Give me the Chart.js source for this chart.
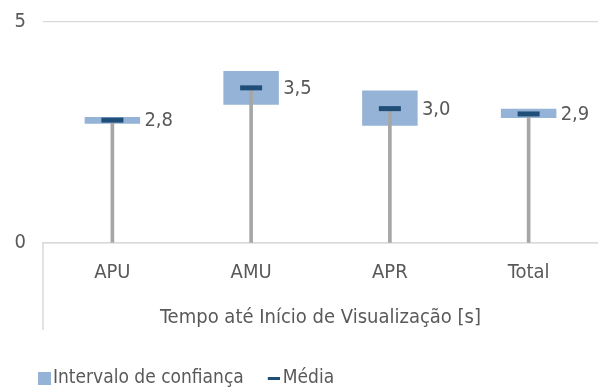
<!DOCTYPE html>
<html>
<head>
<meta charset="utf-8">
<script src="https://cdn.jsdelivr.net/npm/chart.js@4.4.1/dist/chart.umd.min.js"></script>
<style>
  html, body { margin: 0; padding: 0; background: #fff; }
  #wrap { width: 598px; height: 390px; }
</style>
</head>
<body>
<div id="wrap"><canvas id="chart" width="598" height="390"></canvas></div>
<script>
// Data
const categories = ['APU', 'AMU', 'APR', 'Total'];
const meanValues = [2.78, 3.51, 3.04, 2.92];
const ciLow = [2.70, 3.13, 2.65, 2.83];
const ciHigh = [2.85, 3.89, 3.45, 3.04];
const yTicks = [0, 5];
const axisTitle = 'Tempo até Início de Visualização [s]';
const seriesNames = ['Intervalo de confiança', 'Média'];

const FONT = "'DejaVu Sans Condensed', 'Liberation Sans Narrow', 'Arial Narrow', sans-serif";
const FONT_SIZE = 20;
const LEGEND_SIZE = 19;
const TEXT = '#595959';
const GRID = '#d9d9d9';
const CI_BLUE = '#95b3d7';
const MEAN_BLUE = '#1f4e79';
const STEM_GREY = '#a6a6a6';

Chart.defaults.font.family = FONT;
Chart.defaults.font.size = FONT_SIZE;
Chart.defaults.color = TEXT;

// legend icons: a canvas with the mark sitting at its right end
function legendIcon(w, h, markX, markW, markH, color) {
    const c = document.createElement('canvas');
    c.width = w;
    c.height = h;
    const g = c.getContext('2d');
    g.fillStyle = color;
    g.fillRect(markX, (h - markH) / 2, markW, markH);
    return c;
}
const legendIcons = {
    0: legendIcon(24, 13, 11, 13, 13, CI_BLUE),
    2: legendIcon(22, 3, 10, 12, 3, MEAN_BLUE)
};

// value text to the right of each mean marker
const valueLabels = {
    id: 'valueLabels',
    afterDatasetsDraw(chart) {
        const meta = chart.getDatasetMeta(2);
        const ctx = chart.ctx;
        ctx.save();
        ctx.font = FONT_SIZE + 'px ' + FONT;
        ctx.fillStyle = TEXT;
        ctx.textAlign = 'left';
        ctx.textBaseline = 'middle';
        meta.data.forEach((pt, i) => {
            ctx.fillText(meanValues[i].toFixed(1).replace('.', ','), pt.x + 32, pt.y + 1);
        });
        ctx.restore();
    }
};

// left edge of the category band under the axis
const categoryEdge = {
    id: 'categoryEdge',
    afterDraw(chart) {
        const x = chart.scales.x;
        const ctx = chart.ctx;
        ctx.save();
        ctx.strokeStyle = GRID;
        ctx.lineWidth = 1.5;
        ctx.beginPath();
        ctx.moveTo(x.left, x.top);
        ctx.lineTo(x.left, x.bottom - x.options.title.padding.bottom);
        ctx.stroke();
        ctx.restore();
    }
};

new Chart(document.getElementById('chart'), {
    type: 'bar',
    data: {
        labels: categories,
        datasets: [
            {
                label: seriesNames[0],
                data: categories.map((_, i) => [ciLow[i], ciHigh[i]]),
                backgroundColor: CI_BLUE,
                grouped: false,
                barPercentage: 0.4,
                categoryPercentage: 1,
                order: 3
            },
            {
                label: 'stem',
                data: meanValues.map(v => [0, v]),
                backgroundColor: STEM_GREY,
                grouped: false,
                barThickness: 3,
                order: 2
            },
            {
                type: 'line',
                label: seriesNames[1],
                data: meanValues,
                showLine: false,
                pointStyle: 'line',
                pointRadius: 11,
                pointBorderWidth: 5,
                borderColor: MEAN_BLUE,
                borderWidth: 5,
                order: 1
            }
        ]
    },
    options: {
        responsive: false,
        animation: false,
        layout: { autoPadding: false, padding: { top: 22, left: 14, right: 0, bottom: -7.5 } },
        plugins: {
            tooltip: { enabled: false },
            legend: {
                position: 'bottom',
                align: 'start',
                labels: {
                    usePointStyle: true,
                    pointStyleWidth: 9,
                    boxHeight: 13,
                    padding: 20.5,
                    color: TEXT,
                    font: { size: LEGEND_SIZE },
                    generateLabels: chart => Chart.defaults.plugins.legend.labels.generateLabels(chart).map(item => {
                        if (legendIcons[item.datasetIndex]) item.pointStyle = legendIcons[item.datasetIndex];
                        return item;
                    }),
                    filter: item => item.datasetIndex !== 1,
                    sort: (a, b) => a.datasetIndex - b.datasetIndex
                }
            }
        },
        scales: {
            y: {
                min: 0,
                max: 5,
                afterBuildTicks: s => { s.ticks = yTicks.map(v => ({ value: v })); },
                afterFit: s => { s.width = 29; s.paddingTop = 0; s.paddingBottom = 0; },
                border: { display: false },
                grid: { color: GRID, lineWidth: 1.3, drawTicks: false },
                ticks: { padding: 17, color: TEXT, font: { size: FONT_SIZE } }
            },
            x: {
                afterFit: s => { s.paddingLeft = 0; s.paddingRight = 0; },
                border: { display: true, color: GRID, width: 1.5 },
                grid: { display: false, drawTicks: false },
                ticks: { padding: 18, color: TEXT, font: { size: FONT_SIZE } },
                title: {
                    display: true,
                    text: axisTitle,
                    color: TEXT,
                    font: { size: FONT_SIZE },
                    padding: { top: 3, bottom: 18 }
                }
            }
        }
    },
    plugins: [valueLabels, categoryEdge]
});
</script>
</body>
</html>
